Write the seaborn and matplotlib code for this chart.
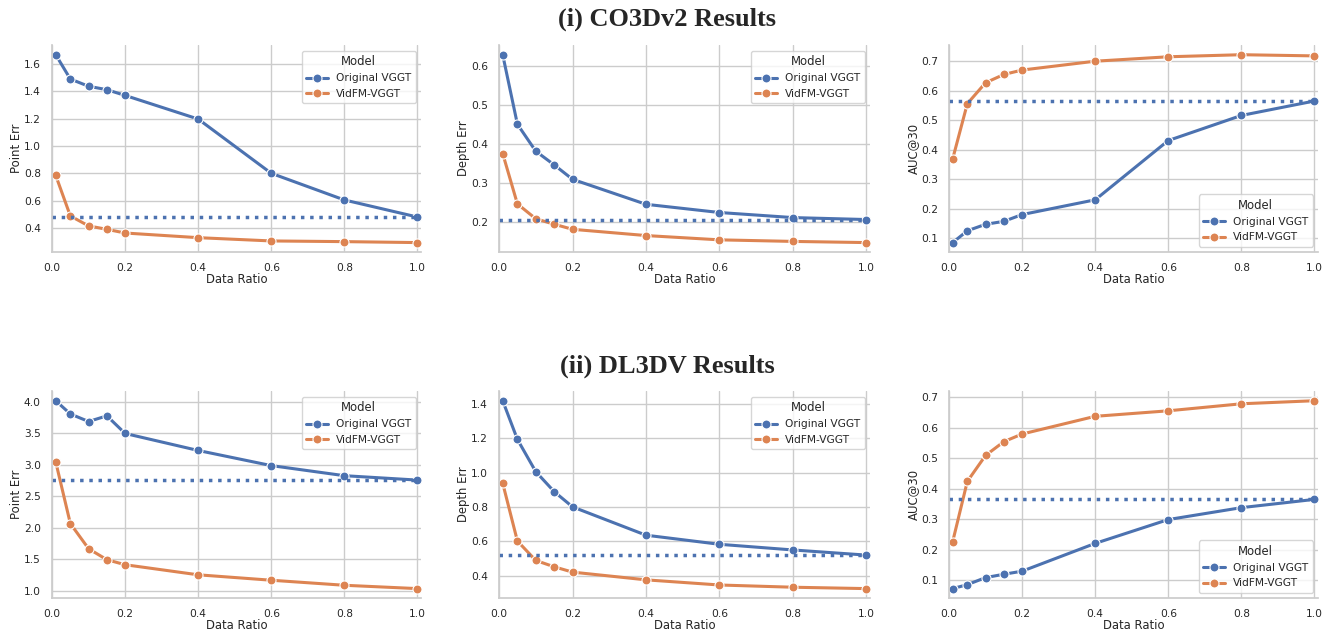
import pandas as pd
import matplotlib.pyplot as plt
import seaborn as sns

ratios = [0.01, 0.05, 0.1, 0.15, 0.2, 0.4, 0.6, 0.8, 1.0]
models = ["Original VGGT", "VidFM-VGGT"]

# CO3Dv2
co3d_point_orig = [1.668, 1.49, 1.437, 1.412, 1.37, 1.197, 0.80, 0.605, 0.48]
co3d_point_vidfm = [0.785, 0.488, 0.415, 0.39, 0.363, 0.329, 0.305, 0.30, 0.293]
co3d_depth_orig = [0.628, 0.45, 0.381, 0.346, 0.309, 0.245, 0.224, 0.211, 0.206]
co3d_depth_vidfm = [0.375, 0.246, 0.208, 0.194, 0.181, 0.165, 0.154, 0.15, 0.147]
co3d_auc_orig = [0.085, 0.125, 0.147, 0.157, 0.18, 0.23, 0.431, 0.516, 0.565]
co3d_auc_vidfm = [0.369, 0.556, 0.627, 0.655, 0.67, 0.70, 0.715, 0.722, 0.718]

# DL3DV
dl3dv_point_orig = [4.02, 3.81, 3.69, 3.78, 3.50, 3.23, 2.99, 2.83, 2.76]
dl3dv_point_vidfm = [3.05, 2.07, 1.67, 1.496, 1.416, 1.256, 1.17, 1.09, 1.037]
dl3dv_depth_orig = [1.418, 1.193, 1.005, 0.889, 0.80, 0.635, 0.582, 0.549, 0.519]
dl3dv_depth_vidfm = [0.938, 0.601, 0.488, 0.451, 0.42, 0.375, 0.345, 0.332, 0.324]
dl3dv_auc_orig = [0.073, 0.086, 0.109, 0.12, 0.13, 0.221, 0.299, 0.338, 0.365]
dl3dv_auc_vidfm = [0.227, 0.424, 0.509, 0.554, 0.579, 0.637, 0.655, 0.678, 0.688]

metrics = ["Point Err", "Depth Err", "AUC@30"]
rows = [
    [(co3d_point_orig, co3d_point_vidfm), (co3d_depth_orig, co3d_depth_vidfm), (co3d_auc_orig, co3d_auc_vidfm)],
    [(dl3dv_point_orig, dl3dv_point_vidfm), (dl3dv_depth_orig, dl3dv_depth_vidfm), (dl3dv_auc_orig, dl3dv_auc_vidfm)],
]
titles = ["(i) CO3Dv2 Results", "(ii) DL3DV Results"]

sns.set_theme(style="whitegrid")
palette = sns.color_palette("deep")[:2]

fig = plt.figure(figsize=(13.35, 6.32), dpi=100)
lefts = [0.039, 0.3738, 0.7109]
widths = [0.2764, 0.278, 0.2764]
bottoms = [0.6013, 0.0538]
height = 0.327
title_y = [0.970, 0.420]

for r, row in enumerate(rows):
    fig.text(0.5, title_y[r], titles[r], ha="center", va="center",
             fontsize=19, fontweight="bold", family="Liberation Serif")
    for c, (orig, vidfm) in enumerate(row):
        ax = fig.add_axes([lefts[c], bottoms[r], widths[c], height])
        df = pd.DataFrame({
            "Data Ratio": ratios * 2,
            metrics[c]: orig + vidfm,
            "Model": [models[0]] * len(ratios) + [models[1]] * len(ratios),
        })
        sns.lineplot(data=df, x="Data Ratio", y=metrics[c], hue="Model",
                     palette=palette, marker="o", markersize=6.5, linewidth=2.2,
                     markeredgecolor="white", markeredgewidth=0.8, ax=ax, clip_on=False)
        ax.axhline(orig[-1], color=palette[0], linestyle=":", linewidth=2.5)
        ax.set_xlim(0, 1.01)
        ax.tick_params(labelsize=7.7, pad=2)
        ax.set_xlabel("Data Ratio", fontsize=8.4, labelpad=0)
        ax.set_ylabel(metrics[c], fontsize=8.4, labelpad=0.5)
        sns.despine(ax=ax)
        loc = "lower right" if c == 2 else "upper right"
        ax.legend(title="Model", loc=loc, fontsize=7.7, title_fontsize=8.4)

fig.savefig("out.png", dpi=100)
